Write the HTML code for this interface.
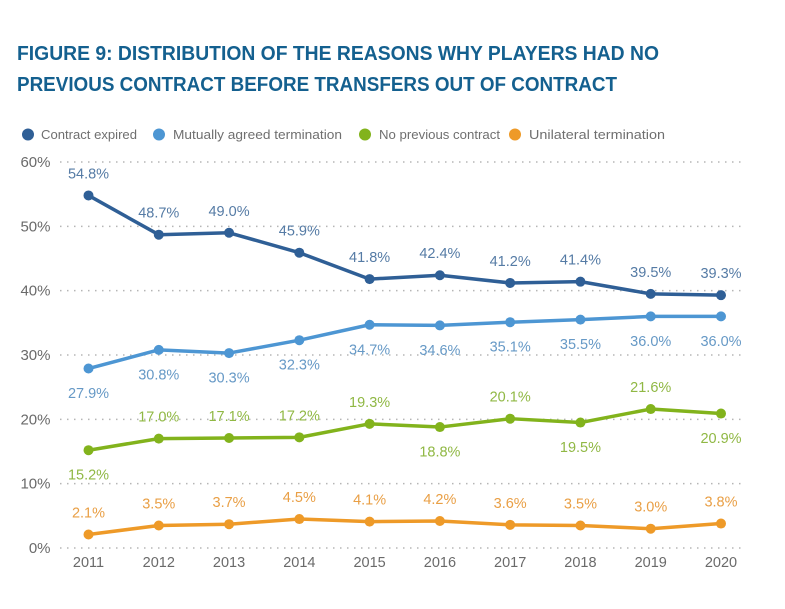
<!DOCTYPE html>
<html lang="en">
<head>
<meta charset="utf-8">
<title>Figure 9</title>
<style>
html,body{margin:0;padding:0;background:#fff;}
svg{display:block;font-family:"Liberation Sans",sans-serif;}
</style>
</head>
<body>
<svg id="chart" width="785" height="609" viewBox="0 0 785 609" xmlns="http://www.w3.org/2000/svg">
<g font-weight="700" font-size="20.5" fill="#14608f">
<text x="17" y="60" textLength="642" lengthAdjust="spacingAndGlyphs">FIGURE 9: DISTRIBUTION OF THE REASONS WHY PLAYERS HAD NO</text>
<text x="17" y="91" textLength="600" lengthAdjust="spacingAndGlyphs">PREVIOUS CONTRACT BEFORE TRANSFERS OUT OF CONTRACT</text>
</g>
<g font-size="13" fill="#6f6f6f">
<g>
<circle cx="28" cy="134.5" r="6" fill="#2f5f96"/><text x="41" y="139" textLength="96" lengthAdjust="spacingAndGlyphs">Contract expired</text>
</g>
<g>
<circle cx="159" cy="134.5" r="6" fill="#4d96d3"/><text x="173" y="139" textLength="169" lengthAdjust="spacingAndGlyphs">Mutually agreed termination</text>
</g>
<g>
<circle cx="365" cy="134.5" r="6" fill="#82b31c"/><text x="379" y="139" textLength="121" lengthAdjust="spacingAndGlyphs">No previous contract</text>
</g>
<g>
<circle cx="515" cy="134.5" r="6" fill="#ee9a28"/><text x="529" y="139" textLength="136" lengthAdjust="spacingAndGlyphs">Unilateral termination</text>
</g>
</g>
<g id="grid"></g>
<g id="yaxis"></g>
<g id="xaxis"></g>
<g id="series"></g>
</svg>
<script>
const years = [2011,2012,2013,2014,2015,2016,2017,2018,2019,2020];
const yTicks = [0,10,20,30,40,50,60];
const contractExpired = [54.8,48.7,49.0,45.9,41.8,42.4,41.2,41.4,39.5,39.3];
const mutuallyAgreed = [27.9,30.8,30.3,32.3,34.7,34.6,35.1,35.5,36.0,36.0];
const noPrevious = [15.2,17.0,17.1,17.2,19.3,18.8,20.1,19.5,21.6,20.9];
const unilateral = [2.1,3.5,3.7,4.5,4.1,4.2,3.6,3.5,3.0,3.8];
const contractSides = ['up','up','up','up','up','up','up','up','up','up'];
const mutualSides = ['down','down','down','down','down','down','down','down','down','down'];
const noPreviousSides = ['down','up','up','up','up','down','up','down','up','down'];
const unilateralSides = ['up','up','up','up','up','up','up','up','up','up'];

const NS = 'http://www.w3.org/2000/svg';
const xScale = i => 88.5 + i * (721 - 88.5) / (years.length - 1);
const yScale = v => 548 - v * (548 - 162) / 60;

function make(tag, attrs, parent, text) {
  const el = document.createElementNS(NS, tag);
  for (const k in attrs) el.setAttribute(k, attrs[k]);
  if (text !== undefined) el.textContent = text;
  parent.appendChild(el);
  return el;
}

const grid = document.getElementById('grid');
const yaxis = document.getElementById('yaxis');
const xaxis = document.getElementById('xaxis');
const seriesRoot = document.getElementById('series');

yTicks.forEach(t => {
  const line = make('line', {x1:60, x2:745, y1:yScale(t), y2:yScale(t), stroke:'#b5b5b5', 'stroke-width':1.5, 'stroke-dasharray':'1.5 5.5'}, grid);
  
  
  const label = make('text', {x:50.5, y:yScale(t) + 5, 'text-anchor':'end', 'font-size':15, fill:'#6a6a6a'}, yaxis, t + '%');
  
  
});

years.forEach((yr, i) => {
  const label = make('text', {x:xScale(i), y:567, 'text-anchor':'middle', 'font-size':14.5, fill:'#6a6a6a'}, xaxis, yr);
  
  
});

function drawSeries(name, values, sides, color, labelColor) {
  const g = make('g', {}, seriesRoot);
  
  
  const pts = values.map((v, i) => xScale(i) + ',' + yScale(v)).join(' ');
  const line = make('polyline', {points:pts, fill:'none', stroke:color, 'stroke-width':3.5, 'stroke-linejoin':'round'}, g);
  
  
  values.forEach((v, i) => {
    const dot = make('circle', {cx:xScale(i), cy:yScale(v), r:5, fill:color}, g);
    
    
    const dy = sides[i] === 'up' ? -17 : 29.5;
    const lab = make('text', {x:xScale(i), y:yScale(v) + dy, 'text-anchor':'middle', 'font-size':14.5, fill:labelColor}, g, v.toFixed(1) + '%');
    
    
  });
}

drawSeries('contract-expired', contractExpired, contractSides, '#2f5f96', '#557ba5');
drawSeries('mutually-agreed', mutuallyAgreed, mutualSides, '#4d96d3', '#6699c6');
drawSeries('no-previous', noPrevious, noPreviousSides, '#82b31c', '#90b844');
drawSeries('unilateral', unilateral, unilateralSides, '#ee9a28', '#e99f45');
</script>
</body>
</html>
